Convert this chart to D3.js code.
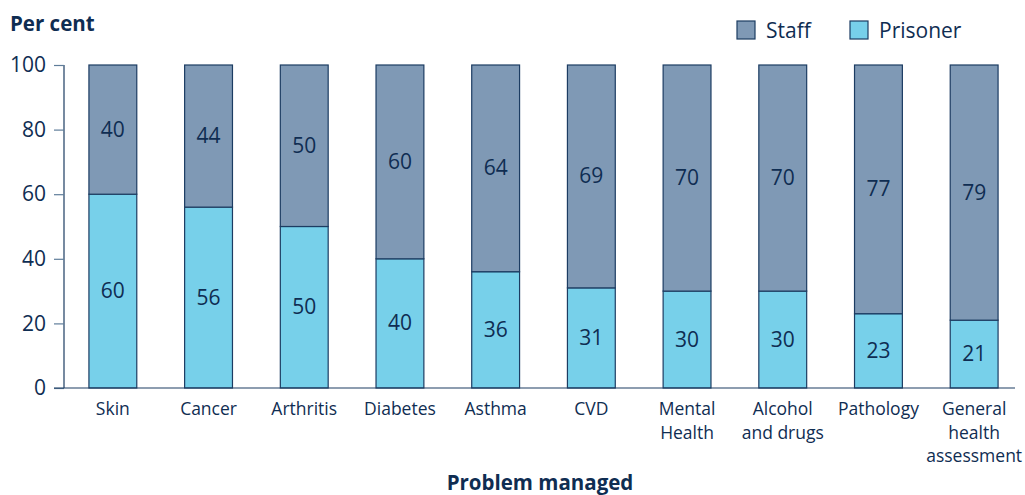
<!DOCTYPE html>
<html><head><meta charset="utf-8">
<script src="https://cdn.jsdelivr.net/npm/d3@7"></script>
<style>body{margin:0;background:#fff;} text{font-family:"Open Sans",sans-serif;fill:#0f2d52;}</style>
</head><body>
<svg id="c" width="1025" height="495"></svg>
<script>
const categories = [["Skin"],["Cancer"],["Arthritis"],["Diabetes"],["Asthma"],["CVD"],["Mental","Health"],["Alcohol","and drugs"],["Pathology"],["General","health","assessment"]];
const prisoner = [60,56,50,40,36,31,30,30,23,21];
const staff = [40,44,50,60,64,69,70,70,77,79];
const yTicks = [0,20,40,60,80,100];

const svg = d3.select("#c");
const colStaff = "#7f99b5", colPris = "#77d0ea", stroke = "#1c3c62", txt = "#0f2d52";
const x = d3.scaleBand().domain(d3.range(categories.length)).range([65,1022]).paddingInner(0.5).paddingOuter(0.25);
const y = d3.scaleLinear().domain([0,100]).range([388,65]);

// axes
const ya = svg.append("g").attr("transform","translate(64,0)").call(d3.axisLeft(y).tickValues(yTicks).tickSize(10).tickPadding(8));
ya.select(".domain").attr("stroke",stroke).attr("stroke-width",1.2).attr("d","M0,65V388");
ya.selectAll(".tick line").attr("stroke","#5f7d9a").attr("stroke-width",1.2);
ya.selectAll(".tick text").attr("font-size",21).attr("fill",txt).attr("font-family","Open Sans");

// bars
const g = svg.append("g");
const data = categories.map((c,i)=>({i,p:prisoner[i],s:staff[i]}));
g.selectAll(".p").data(data).join("rect")
 .attr("x",d=>x(d.i)).attr("width",x.bandwidth())
 .attr("y",d=>y(d.p)).attr("height",d=>y(0)-y(d.p))
 .attr("fill",colPris).attr("stroke",stroke).attr("stroke-width",1.2);
g.selectAll(".s").data(data).join("rect")
 .attr("x",d=>x(d.i)).attr("width",x.bandwidth())
 .attr("y",d=>y(d.p+d.s)).attr("height",d=>y(d.p)-y(d.p+d.s))
 .attr("fill",colStaff).attr("stroke",stroke).attr("stroke-width",1.2);
g.selectAll(".pl").data(data).join("text")
 .attr("x",d=>x(d.i)+x.bandwidth()/2).attr("y",d=>(y(0)+y(d.p))/2+7)
 .attr("text-anchor","middle").attr("font-size",21).text(d=>d.p);
g.selectAll(".sl").data(data).join("text")
 .attr("x",d=>x(d.i)+x.bandwidth()/2).attr("y",d=>(y(d.p)+y(100))/2+7)
 .attr("text-anchor","middle").attr("font-size",21).text(d=>d.s);

// bottom axis line
svg.append("line").attr("x1",54).attr("x2",1015).attr("y1",388).attr("y2",388).attr("stroke",stroke).attr("stroke-width",1.2);

// category labels
categories.forEach((lines,i)=>{
  lines.forEach((l,k)=>svg.append("text").attr("text-anchor","middle").attr("font-size",17.5)
    .attr("x",x(i)+x.bandwidth()/2).attr("y",415+k*23.5).text(l));
});

svg.append("text").attr("x",10).attr("y",31).attr("font-size",20.5).attr("font-weight","bold").text("Per cent");
svg.append("text").attr("x",540).attr("y",490).attr("text-anchor","middle").attr("font-size",20.5).attr("font-weight","bold").text("Problem managed");

// legend
const legend = [["Staff",colStaff,737],["Prisoner",colPris,850]];
legend.forEach(([n,c,lx])=>{
  svg.append("rect").attr("x",lx).attr("y",21).attr("width",18).attr("height",18).attr("fill",c).attr("stroke",stroke).attr("stroke-width",1.2);
  svg.append("text").attr("x",lx+29).attr("y",38).attr("font-size",21).text(n);
});
</script>
</body></html>
